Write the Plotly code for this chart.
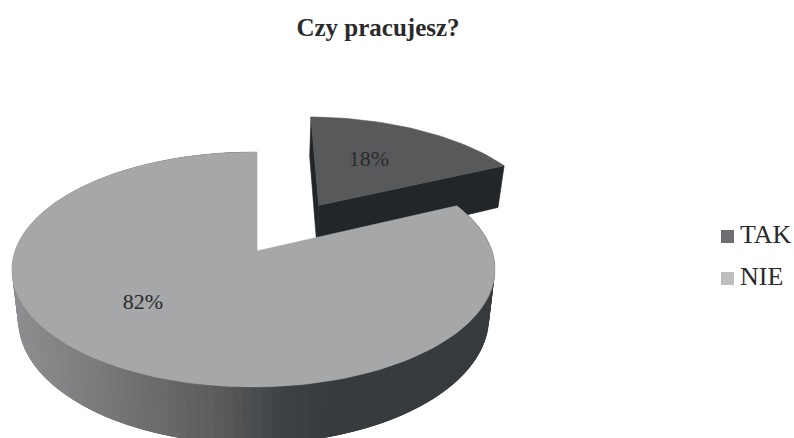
import math
import plotly.graph_objects as go

# Survey answers
categories = ["TAK", "NIE"]
shares = [18, 82]
title_text = "Czy pracujesz?"

# Colours per answer
top_colors = ["#58595b", "#a5a7a9"]
legend_colors = ["#6d6e71", "#bcbec0"]
slice_wall_color = "#222629"

# Rim shading of the large slice, keyed on the horizontal page position
rim_stops = [(15, (140, 142, 144)), (80, (125, 127, 129)), (150, (108, 110, 112)),
             (220, (90, 92, 94)), (290, (62, 65, 67)), (340, (56, 59, 61)), (500, (56, 59, 61))]

# Pie geometry in page pixels with a simple perspective projection
APEX_X, APEX_Y = 257.0, 251.0
RADIUS_X, RADIUS_Y = 238.5, 114.6
PERSP_DEPTH, PERSP_SIDE = 0.157, 0.0145
THICKNESS = 48.0
BASE_SHRINK = 0.975
EXPLODE = 0.505
SHIFT_SMALL = 1.5
RADIUS_SMALL = 1.012
FONT = "Liberation Serif"
INK = "#2b2a2b"

# Key placement in page pixels
KEY_SWATCH_X = 727.5
KEY_TEXT_X = 740.0
KEY_ROWS_Y = [236.5, 278.5]


def project(x, d, base=False, nudge=0.0):
    den = 1 - PERSP_DEPTH * d + PERSP_SIDE * x
    px = RADIUS_X * x / den * (BASE_SHRINK if base else 1.0)
    py = RADIUS_Y * d / den + (THICKNESS / den if base else 0.0)
    return APEX_X + px + nudge, APEX_Y + py


def rim_point(theta, ox, od, base=False, nudge=0.0, r=1.0):
    # theta is in degrees, clockwise from twelve o'clock
    t = math.radians(theta)
    return project(ox + r * math.sin(t), od - r * math.cos(t), base, nudge)


def rim_color(px):
    for (x0, c0), (x1, c1) in zip(rim_stops, rim_stops[1:]):
        if px <= x1:
            f = max(0.0, (px - x0) / (x1 - x0))
            return "rgb(%d,%d,%d)" % tuple(round(a + (b - a) * f) for a, b in zip(c0, c1))
    return "rgb(%d,%d,%d)" % rim_stops[-1][1]


def polygon(points, color, outline=0.6):
    xs = [p[0] for p in points] + [points[0][0]]
    ys = [p[1] for p in points] + [points[0][1]]
    return go.Scatter(x=xs, y=ys, mode="lines", fill="toself", fillcolor=color,
                      line=dict(color=color, width=outline), hoverinfo="skip", showlegend=False)


fig = go.Figure()

sweep_small = shares[0] / sum(shares) * 360
mid_small = math.radians(sweep_small / 2)
ox = EXPLODE * math.sin(mid_small)
od = -EXPLODE * math.cos(mid_small)
arc_small = [sweep_small * i / 40 for i in range(41)]


def small_rim(theta, base=False):
    return rim_point(theta, ox, od, base, SHIFT_SMALL, RADIUS_SMALL)


# Detached slice: side faces first, then the top
fig.add_trace(polygon([project(ox, od, False, SHIFT_SMALL), project(ox, od, True, SHIFT_SMALL),
                       small_rim(sweep_small, True), small_rim(sweep_small)], slice_wall_color))
fig.add_trace(polygon([project(ox, od, False, SHIFT_SMALL), project(ox, od, True, SHIFT_SMALL),
                       small_rim(0, True), small_rim(0)], slice_wall_color))
fig.add_trace(polygon([project(ox, od, False, SHIFT_SMALL)]
                      + [small_rim(a) for a in arc_small], top_colors[0]))

# Large slice: rim segments, each overlapping the next so no seams show, then the top
steps = 150
arc_large = [sweep_small + (360 - sweep_small) * i / steps for i in range(steps + 4)]
for a0, a1 in zip(arc_large, arc_large[3:]):
    a1 = min(a1, 360.0)
    mid = (a0 + a1) / 2
    p0, p1 = rim_point(a0, 0, 0), rim_point(a1, 0, 0)
    q0, q1 = rim_point(a0, 0, 0, True), rim_point(a1, 0, 0, True)
    fig.add_trace(polygon([p0, rim_point(mid, 0, 0), p1, q1, rim_point(mid, 0, 0, True), q0],
                          rim_color(p0[0]), outline=0))
arc_top = [a for a in arc_large if a <= 360.0]
fig.add_trace(polygon([project(0, 0)] + [rim_point(a, 0, 0) for a in arc_top], top_colors[1]))

# Percentage labels on the slices
lx0, ly0 = rim_point(29, ox, od, False, 0, 0.556)
lx1, ly1 = rim_point(226, 0, 0, False, 0, 0.616)
fig.add_trace(go.Scatter(x=[lx0, lx1], y=[ly0, ly1], mode="text",
                         text=[f"{v}%" for v in shares],
                         textfont=dict(family=FONT, size=22, color=INK),
                         textposition="middle center", hoverinfo="skip", showlegend=False))

# Key to the answers
fig.add_trace(go.Scatter(x=[KEY_SWATCH_X] * len(categories), y=KEY_ROWS_Y, mode="markers",
                         marker=dict(symbol="square", size=13, color=legend_colors, line=dict(width=0)),
                         hoverinfo="skip", showlegend=False))
fig.add_trace(go.Scatter(x=[KEY_TEXT_X] * len(categories), y=KEY_ROWS_Y, mode="text",
                         text=categories, textposition="middle right",
                         textfont=dict(family=FONT, size=26, color=INK),
                         hoverinfo="skip", showlegend=False))

fig.update_layout(
    width=794, height=438, margin=dict(l=0, r=0, t=0, b=0, autoexpand=False),
    paper_bgcolor="white", plot_bgcolor="white", showlegend=False,
    xaxis=dict(range=[0, 794], visible=False, fixedrange=True),
    yaxis=dict(range=[438, 0], visible=False, fixedrange=True),
    title=dict(text=f"<b>{title_text}</b>", x=378 / 794, xanchor="center",
               y=1 - 27 / 438, yanchor="middle",
               font=dict(family=FONT, size=25, color=INK)),
)

fig.write_html("out.html")
